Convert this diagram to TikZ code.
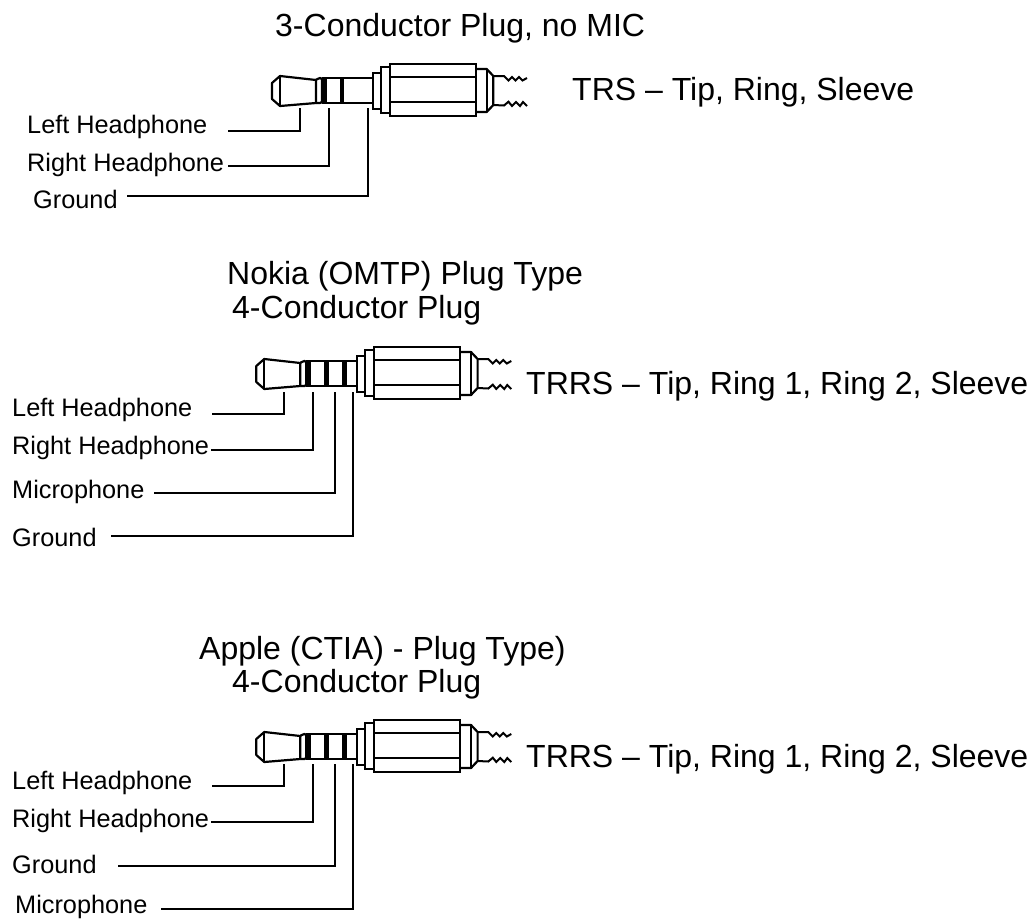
\documentclass[tikz,border=0pt]{standalone}
\usepackage{fontspec}
\setmainfont{Liberation Sans}
\usepackage{tikz}
\tikzset{
    lab/.style={anchor=base west,inner sep=0pt,font=\fontsize{25.3}{25.3}\selectfont},
    heading/.style={anchor=base west,inner sep=0pt,font=\fontsize{32}{32}\selectfont},
    wire/.style={line width=2pt},
    pics/jack/.style={code={
        \draw[line width=2.2pt,line join=round] (0,-7) -- (8,-14) -- (44,-10) -- (44,13) -- (8,16) -- (0,9) -- cycle;
        \draw[line width=2.2pt] (8,-14) -- (8,16);
        % collier et tige
        \draw[line width=2.2pt,rounded corners=2pt] (44,-10) -- (46,-12) -- (50,-12) -- (50,13) -- (46,13) -- (44,13);
        \draw[line width=2.2pt] (50,-12) -- (101,-12);
        \draw[line width=2.2pt] (50,13) -- (101,13);
        \foreach \xband in {#1} {
            \fill (\xband,-12) rectangle ++(4.8,25);
        }
        % corps
        \draw[line width=2.2pt] (101,-17) rectangle (108.7,19);
        \draw[line width=2.2pt] (108.7,-22.7) rectangle (118,22.7);
        \draw[line width=2.2pt] (118,-26) rectangle (203.7,26);
        \draw[line width=2.2pt] (118,-12.7) -- (203.7,-12.7);
        \draw[line width=2.2pt] (118,11.7) -- (203.7,11.7);
        \draw[line width=2.2pt,line join=round] (203.7,-21) -- (214.7,-21) -- (221.3,-14) -- (221.3,15) -- (214.7,22) -- (203.7,22);
        \draw[line width=2.2pt] (214.7,-21) -- (214.7,22);
        % fils
        \draw[line width=2pt] (221.3,-14) -- (232,-14) -- (236.5,-9.5) -- (240,-13) -- (243.5,-9.5) -- (247,-13) -- (250.5,-9.5) -- (255,-12);
        \draw[line width=2pt] (221.3,15) -- (232,15.5) -- (236.5,11.7) -- (240,16) -- (244,12) -- (248,16) -- (251,12) -- (255,16);
    }}
}
\begin{document}
\begin{tikzpicture}[x=1pt,y=-1pt]
    \useasboundingbox (0,0) rectangle (1033,918);

    % prise 3 conducteurs
    \node[heading] (titleA) at (275,36) {3-Conductor Plug, no MIC};
    \pic at (272,90) {jack={50,67.5}};
    \node[heading] (trs) at (572,100) {TRS – Tip, Ring, Sleeve};
    \node[lab] (leftA) at (27,133) {Left Headphone};
    \node[lab] (rightA) at (27,171) {Right Headphone};
    \node[lab] (gndA) at (33,208) {Ground};
    \coordinate (leftAs) at (228,131);
    \coordinate (leftAe) at (300,108);
    \coordinate (rightAs) at (228,166);
    \coordinate (rightAe) at (329,108);
    \coordinate (gndAs) at (127,196);
    \coordinate (gndAe) at (368,108);
    \draw[wire] (leftAs) -| (leftAe);
    \draw[wire] (rightAs) -| (rightAe);
    \draw[wire] (gndAs) -| (gndAe);

    % Nokia
    \node[heading] (titleB) at (227,284) {Nokia (OMTP) Plug Type};
    \node[heading] (subB) at (232,318) {4-Conductor Plug};
    \pic at (256.3,373) {jack={50,67.5,85.5}};
    \node[heading] (trrsB) at (526,394.5) {TRRS – Tip, Ring 1, Ring 2, Sleeve};
    \node[lab] (leftB) at (12,416) {Left Headphone};
    \node[lab] (rightB) at (12,454) {Right Headphone};
    \node[lab] (micB) at (12,498) {Microphone};
    \node[lab] (gndB) at (12,546) {Ground};
    \coordinate (leftBs) at (212,414);
    \coordinate (leftBe) at (284,392);
    \coordinate (rightBs) at (211,450);
    \coordinate (rightBe) at (313,392);
    \coordinate (micBs) at (154,493);
    \coordinate (micBe) at (335,392);
    \coordinate (gndBs) at (111,536);
    \coordinate (gndBe) at (353,392);
    \draw[wire] (leftBs) -| (leftBe);
    \draw[wire] (rightBs) -| (rightBe);
    \draw[wire] (micBs) -| (micBe);
    \draw[wire] (gndBs) -| (gndBe);

    % Apple
    \node[heading] (titleC) at (199,659) {Apple (CTIA) - Plug Type)};
    \node[heading] (subC) at (232,692) {4-Conductor Plug};
    \pic at (256.3,746) {jack={50,67.5,85.5}};
    \node[heading] (trrsC) at (526,767.3) {TRRS – Tip, Ring 1, Ring 2, Sleeve};
    \node[lab] (leftC) at (12,789) {Left Headphone};
    \node[lab] (rightC) at (12,827) {Right Headphone};
    \node[lab] (gndC) at (12,873) {Ground};
    \node[lab] (micC) at (15,913) {Microphone};
    \coordinate (leftCs) at (212,786);
    \coordinate (leftCe) at (284,764);
    \coordinate (rightCs) at (211,822);
    \coordinate (rightCe) at (313,764);
    \coordinate (gndCs) at (118,866);
    \coordinate (gndCe) at (335,764);
    \coordinate (micCs) at (161,909);
    \coordinate (micCe) at (353,764);
    \draw[wire] (leftCs) -| (leftCe);
    \draw[wire] (rightCs) -| (rightCe);
    \draw[wire] (gndCs) -| (gndCe);
    \draw[wire] (micCs) -| (micCe);
\end{tikzpicture}
\end{document}
